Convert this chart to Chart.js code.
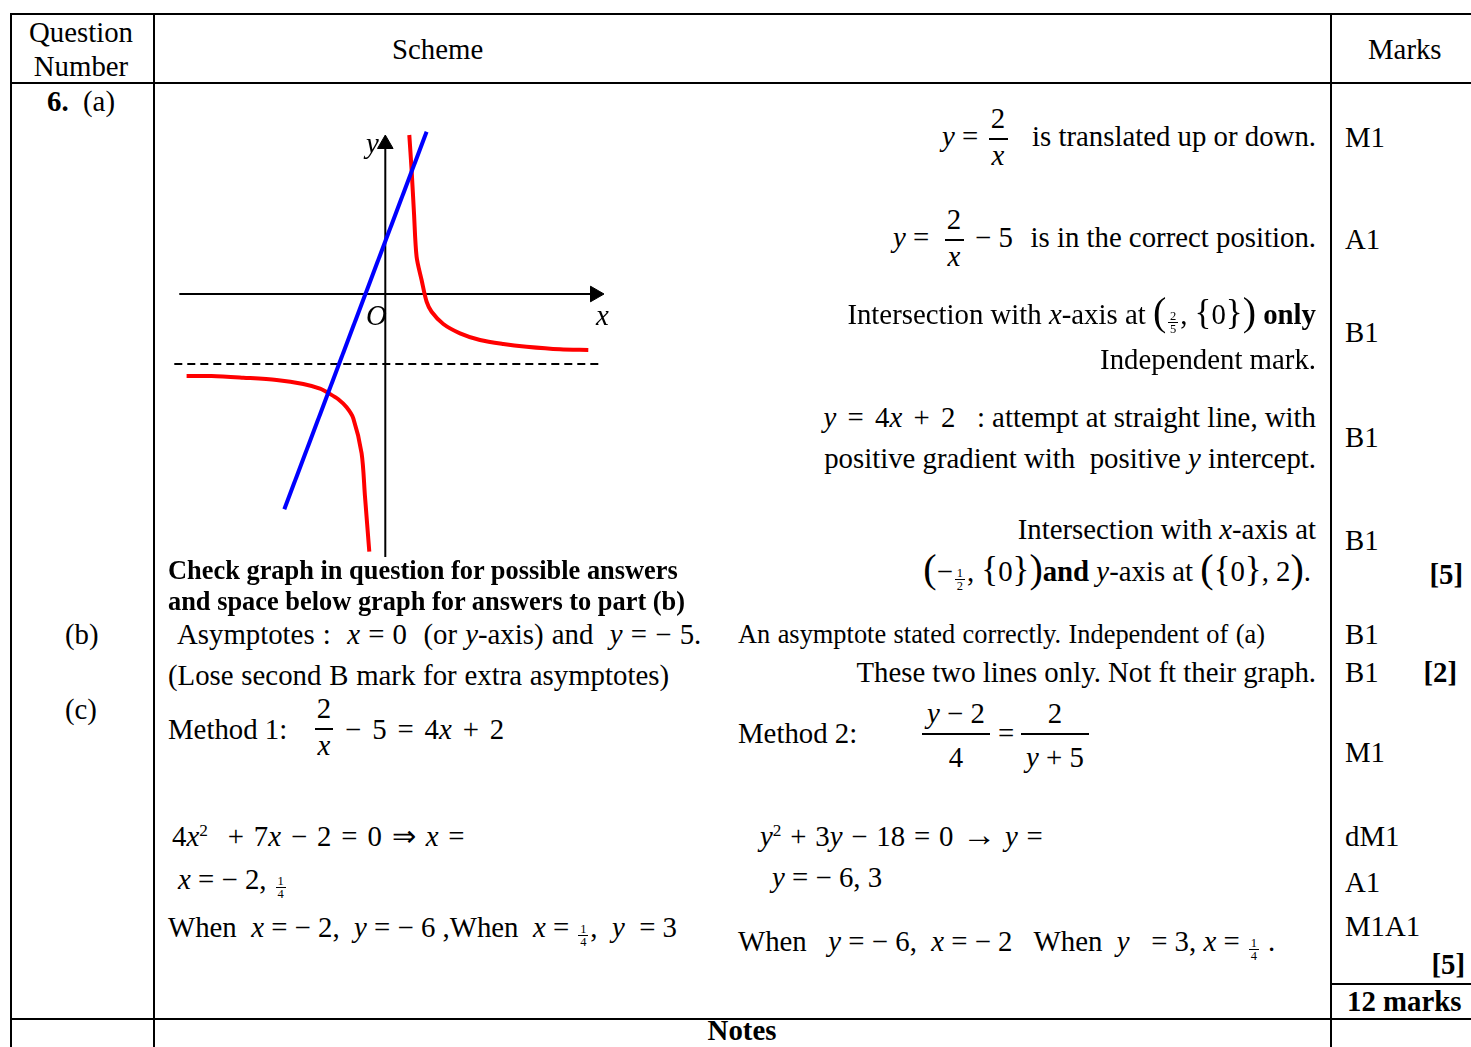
<!DOCTYPE html>
<html>
<head>
<meta charset="utf-8">
<script src="https://cdn.jsdelivr.net/npm/chart.js@4.4.0/dist/chart.umd.min.js"></script>
<style>
  html, body { margin:0; padding:0; background:#fff; }
  body { width:1471px; height:1047px; overflow:hidden; position:relative;
         font-family:"Liberation Serif","Times New Roman",serif; color:#000; }
  .t { position:absolute; white-space:nowrap; }
  .hl { position:absolute; background:#000; height:2px; }
  .vl { position:absolute; background:#000; width:2px; }
  .bp { font-size:40px; line-height:0; position:relative; top:1px; }
  .bb { font-size:35px; line-height:0; position:relative; top:0px; }
  .sup { font-size:0.6em; line-height:0; position:relative; top:-0.6em; }
  .sf { display:inline-block; position:relative; width:12px; height:9px; margin:0 1px; }
  .sf .n, .sf .d { position:absolute; left:0; right:0; text-align:center; font-size:12.5px; line-height:12px; }
  .sf .n { top:-5.5px; }
  .sf .d { top:8px; }
  .sf .bar { position:absolute; left:1px; right:1px; top:7px; height:1px; background:#000; }
  .fb { position:absolute; background:#000; height:1.5px; }
  .m { word-spacing:4px; }
  #gwrap { position:absolute; left:165px; top:120px; width:460px; height:440px; }
</style>
</head>
<body>
<div id="gwrap"><canvas id="graph"></canvas></div>
<script>
// ---------- sketch data (units, origin at O) ----------
const xAxisX = [-20.6, 21.0];
const xAxisY = [0, 0];
const yAxisX = [0, 0];
const yAxisY = [-26.3, 15.0];
const arrowX = [20.97, 0];
const arrowY = [0, 15.0];
const asymptoteX = [-21.1, 21.7];
const asymptoteY = [-7.0, -7.0];
const rightBranchX = [2.4, 2.63, 2.87, 3.13, 3.63, 4.13, 4.63, 5.8, 7.47, 9.47, 11.8, 14.13, 17.47, 20.3];
const rightBranchY = [15.9, 12.4, 8.07, 3.73, 1.4, -0.77, -1.77, -3.0, -3.93, -4.6, -5.0, -5.27, -5.53, -5.6];
const leftBranchX = [-19.87, -17.37, -14.2, -10.87, -8.2, -6.53, -5.53, -4.7, -3.87, -3.2, -2.37, -2.03, -1.6];
const leftBranchY = [-8.2, -8.2, -8.37, -8.6, -9.0, -9.47, -10.0, -10.53, -11.33, -12.43, -15.93, -20.27, -25.77];
const lineX = [4.13, -10.1];
const lineY = [16.23, -21.53];

const pts = (xs, ys) => xs.map((x, i) => ({ x: x, y: ys[i] }));

new Chart(document.getElementById('graph'), {
  type: 'scatter',
  data: {
    datasets: [
      { data: pts(rightBranchX, rightBranchY), showLine: true, borderColor: '#ff0000', borderWidth: 4, pointRadius: 0, tension: 0.3, order: 1 },
      { data: pts(leftBranchX, leftBranchY), showLine: true, borderColor: '#ff0000', borderWidth: 4, pointRadius: 0, tension: 0.3, order: 1 },
      { data: pts(lineX, lineY), showLine: true, borderColor: '#0000ff', borderWidth: 4, pointRadius: 0, order: 0 },
      { data: pts(xAxisX, xAxisY), showLine: true, borderColor: '#000', borderWidth: 2, pointRadius: 0, order: 5 },
      { data: pts(yAxisX, yAxisY), showLine: true, borderColor: '#000', borderWidth: 2, pointRadius: 0, order: 5 },
      { data: pts(asymptoteX, asymptoteY), showLine: true, borderColor: '#000', borderWidth: 2, borderDash: [8, 5], pointRadius: 0, order: 5 },
      { data: pts(arrowX, arrowY), showLine: false, pointStyle: 'triangle', pointRadius: 9, pointRotation: [90, 0],
        pointBackgroundColor: '#000', pointBorderColor: '#000', pointBorderWidth: 1, order: 4 }
    ]
  },
  options: {
    responsive: true, maintainAspectRatio: false, animation: false, devicePixelRatio: 1,
    layout: { padding: 0, autoPadding: false },
    events: [],
    plugins: { legend: { display: false }, tooltip: { enabled: false } },
    scales: {
      x: { type: 'linear', min: -22.03, max: 23.97, display: false },
      y: { type: 'linear', min: -26.6, max: 17.4, display: false }
    }
  }
});

// ---------- page text ----------
const FS = 28.8, FS2 = 26.4;
function T(html, x, base, o) {
  o = o || {};
  const fs = o.fs || FS;
  const d = document.createElement('div');
  d.className = 't';
  d.style.fontSize = fs + 'px';
  d.style.lineHeight = (fs * 1.107) + 'px';
  d.style.top = (base - fs * 0.891) + 'px';
  if (o.b) d.style.fontWeight = 'bold';
  if (o.ws) d.style.wordSpacing = o.ws + 'px';
  if (o.r) { d.style.right = (1471 - x) + 'px'; }
  else if (o.c) { d.style.left = x + 'px'; d.style.transform = 'translateX(-50%)'; }
  else d.style.left = x + 'px';
  d.innerHTML = html;
  document.body.appendChild(d);
  return d;
}
function line(cls, x, y, len) {
  const d = document.createElement('div');
  d.className = cls;
  d.style.left = x + 'px'; d.style.top = y + 'px';
  if (cls === 'hl') d.style.width = len + 'px'; else d.style.height = len + 'px';
  document.body.appendChild(d);
}
function frac(cx, barY, barW, num, den, denOff) {
  const b = document.createElement('div');
  b.className = 'fb';
  b.style.left = (cx - barW / 2) + 'px'; b.style.top = (barY - 0.75) + 'px'; b.style.width = barW + 'px';
  document.body.appendChild(b);
  T(num, cx, barY - 10, { c: 1 });
  T(den, cx, barY + (denOff || 27), { c: 1 });
}
const sf = (n, d) => '<span class="sf"><span class="n">' + n + '</span><span class="bar"></span><span class="d">' + d + '</span></span>';
const I = s => '<i>' + s + '</i>';

// table rules
line('hl', 10, 13, 1461);
line('hl', 10, 82, 1461);
line('hl', 10, 1018, 1461);
line('hl', 1331, 983, 140);
line('vl', 10, 13, 1034);
line('vl', 153, 13, 1034);
line('vl', 1330, 13, 1034);

// header
T('Question', 81, 43, { c: 1 });
T('Number', 81, 77, { c: 1 });
T('Scheme', 392, 60);
T('Marks', 1368, 60);

// graph labels
T(I('y'), 366, 154);
T(I('O'), 366, 326);
T(I('x'), 596, 326);

// (a)
T('<b>6.</b>&nbsp; (a)', 47, 112);
T(I('y') + ' =', 942, 147);
frac(998, 139, 19, '2', I('x'));
T('is translated up or down.', 1316, 147, { r: 1 });

T(I('y') + ' =', 893, 248);
frac(954, 240, 19, '2', I('x'));
T('− 5', 975, 248);
T('is in the correct position.', 1316, 248, { r: 1 });

T('Intersection with ' + I('x') + '-axis at <span class="bp">(</span>' + sf('2', '5') + ', <span class="bb">{</span>0<span class="bb">}</span><span class="bp">)</span> <b>only</b>', 1316, 325, { r: 1 });
T('Independent mark.', 1316, 370, { r: 1 });
T('<span class="m">' + I('y') + ' = 4' + I('x') + ' + 2</span>&nbsp; &nbsp;: attempt at straight line, with', 1316, 428, { r: 1 });
T('positive gradient with&nbsp; positive ' + I('y') + ' intercept.', 1316, 469, { r: 1 });
T('Intersection with ' + I('x') + '-axis at', 1316, 540, { r: 1 });
T('<span class="bp">(</span>−' + sf('1', '2') + ', <span class="bb">{</span>0<span class="bb">}</span><span class="bp">)</span><b>and</b> ' + I('y') + '-axis at <span class="bp">(</span><span class="bb">{</span>0<span class="bb">}</span>, 2<span class="bp">)</span>.', 1311, 582, { r: 1 });

T('M1', 1345, 148);
T('A1', 1345, 250);
T('B1', 1345, 343);
T('B1', 1345, 448);
T('B1', 1345, 551);
T('[5]', 1463, 585, { r: 1, b: 1 });

T('Check graph in question for possible answers', 168, 580, { b: 1, fs: FS2 });
T('and space below graph for answers to part (b)', 168, 611, { b: 1, fs: FS2 });

// (b)
T('(b)', 65, 645);
T('Asymptotes :&nbsp; ' + I('x') + ' = 0&nbsp; (or ' + I('y') + '-axis) and&nbsp; ' + I('y') + ' = − 5.', 177, 645, { ws: 1 });
T('An asymptote stated correctly. Independent of (a)', 738, 644, { fs: FS2, ws: 0.8 });
T('(Lose second B mark for extra asymptotes)', 168, 686, { ws: 0.6 });
T('These two lines only. Not ft their graph.', 1316, 683, { r: 1 });
T('B1', 1345, 645);
T('B1', 1345, 683);
T('[2]', 1457, 683, { r: 1, b: 1 });

// (c)
T('(c)', 65, 720);
T('Method 1:', 168, 740);
frac(324, 729, 18, '2', I('x'));
T('− 5 = 4' + I('x') + ' + 2', 345, 740, { ws: 3.7 });

T('Method 2:', 738, 744);
frac(956, 734, 68, I('y') + ' − 2', '4', 34);
T('=', 998, 744);
frac(1055, 734, 68, '2', I('y') + ' + 5', 34);
T('M1', 1345, 763);

T('4' + I('x') + '<span class="sup">2</span>&nbsp; + 7' + I('x') + ' − 2 = 0 ⇒ ' + I('x') + ' =', 172, 847, { ws: 2.7 });
T(I('y') + '<span class="sup">2</span> + 3' + I('y') + ' − 18 = 0 <span style="font-size:34px;line-height:0">→</span> ' + I('y') + ' =', 760, 847, { ws: 1.6 });
T('dM1', 1345, 847);

T(I('x') + ' = − 2, ' + sf('1', '4'), 178, 890);
T(I('y') + ' = − 6, 3', 772, 888);
T('A1', 1345, 893);

T('When&nbsp; ' + I('x') + ' = − 2,&nbsp; ' + I('y') + ' = − 6 ,When&nbsp; ' + I('x') + ' = ' + sf('1', '4') + ',&nbsp; ' + I('y') + '&nbsp; = 3', 168, 938);
T('When&nbsp;&nbsp; ' + I('y') + ' = − 6,&nbsp; ' + I('x') + ' = − 2&nbsp;&nbsp; When&nbsp; ' + I('y') + '&nbsp;&nbsp; = 3, ' + I('x') + ' = ' + sf('1', '4') + ' .', 738, 952);
T('M1A1', 1345, 937);
T('[5]', 1465, 975, { r: 1, b: 1 });
T('12 marks', 1347, 1012, { b: 1 });

T('Notes', 742, 1041, { b: 1, c: 1 });
</script>
</body>
</html>
